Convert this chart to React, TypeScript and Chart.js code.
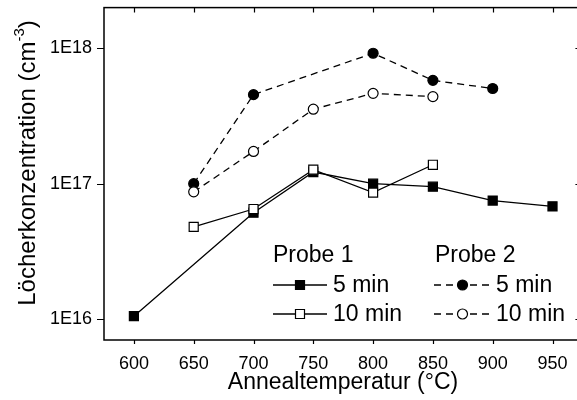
import React, { useEffect, useRef } from 'react';
import { Chart, registerables } from 'chart.js';
Chart.register(...registerables);

const FONT = '"Liberation Sans", Arial, Helvetica, sans-serif';

const probe1Temps5 = [600, 700, 750, 800, 850, 900, 950];
const probe1Conc5 = [1.05e16, 6.1e16, 1.22e17, 1.0e17, 0.95e17, 7.5e16, 6.8e16];
const probe1Temps10 = [650, 700, 750, 800, 850];
const probe1Conc10 = [4.8e16, 6.5e16, 1.27e17, 0.86e17, 1.38e17];
const probe2Temps5 = [650, 700, 800, 850, 900];
const probe2Conc5 = [1.0e17, 4.55e17, 0.92e18, 5.8e17, 5.05e17];
const probe2Temps10 = [650, 700, 750, 800, 850];
const probe2Conc10 = [0.87e17, 1.73e17, 3.55e17, 4.65e17, 4.4e17];

const xMin = 575;
const xMax = 975;
const yMin = 7e15;
const yMax = 2e18;
const xLabelStep = 50;
const yLabelPrefix = '1E';

const xTitle = 'Annealtemperatur (°C)';
const yTitleMain = 'Löcherkonzentration (cm';
const yTitleSup = '-3';
const yTitleEnd = ')';
const legendGroups = ['Probe 1', 'Probe 2'];
const legendRows = ['5 min', '10 min'];

const pts = (xs: number[], ys: number[]) => xs.map((x, i) => ({ x, y: ys[i] }));

export default function App() {
  const ref = useRef<HTMLCanvasElement | null>(null);
  useEffect(() => {
    const canvas = ref.current!;
    const drawMarker = (ctx: CanvasRenderingContext2D, kind: string, filled: boolean, x: number, y: number) => {
      ctx.save();
      ctx.fillStyle = filled ? '#000' : '#fff';
      ctx.strokeStyle = '#000';
      ctx.lineWidth = 1.2;
      ctx.setLineDash([]);
      ctx.beginPath();
      if (kind === 'rect') ctx.rect(x - 4.5, y - 4.5, 9, 9);
      else ctx.arc(x, y, 5, 0, Math.PI * 2);
      ctx.fill();
      ctx.stroke();
      ctx.restore();
    };
    const deco = {
      id: 'deco',
      afterDraw(chart: any) {
        const ctx: CanvasRenderingContext2D = chart.ctx;
        const a = chart.chartArea;
        const xs = chart.scales.x;
        const ys = chart.scales.y;
        ctx.save();
        ctx.strokeStyle = '#000';
        ctx.lineWidth = 1.5;
        ctx.strokeRect(a.left, a.top, a.right - a.left, a.bottom - a.top);
        ctx.lineWidth = 1.2;
        ctx.beginPath();
        for (const t of xs.ticks) {
          const px = Math.round(xs.getPixelForValue(t.value)) + 0.5;
          ctx.moveTo(px, a.bottom);
          ctx.lineTo(px, a.bottom + 4);
          ctx.moveTo(px, a.top);
          ctx.lineTo(px, a.top + 5);
        }
        for (const t of ys.ticks) {
          const e = Math.log10(t.value);
          const major = Math.abs(e - Math.round(e)) < 1e-6;
          const py = Math.round(ys.getPixelForValue(t.value)) + 0.5;
          const l = major ? 7 : 3;
          ctx.moveTo(a.left, py);
          ctx.lineTo(a.left - l, py);
          ctx.moveTo(a.right, py);
          ctx.lineTo(a.right - l, py);
        }
        ctx.stroke();

        ctx.fillStyle = '#000';
        ctx.font = `23px ${FONT}`;
        ctx.textAlign = 'center';
        ctx.textBaseline = 'alphabetic';
        ctx.fillText(xTitle, 343, 389);

        // y title rotated with superscript
        ctx.save();
        ctx.translate(35, 163);
        ctx.rotate(-Math.PI / 2);
        ctx.font = `24px ${FONT}`;
        const w1 = ctx.measureText(yTitleMain).width;
        ctx.font = `15px ${FONT}`;
        const w2 = ctx.measureText(yTitleSup).width;
        ctx.font = `24px ${FONT}`;
        const w3 = ctx.measureText(yTitleEnd).width;
        const tot = w1 + w2 + w3;
        let cx = -tot / 2;
        ctx.textAlign = 'left';
        ctx.fillText(yTitleMain, cx, 0);
        cx += w1;
        ctx.font = `15px ${FONT}`;
        ctx.fillText(yTitleSup, cx, -11);
        cx += w2;
        ctx.font = `24px ${FONT}`;
        ctx.fillText(yTitleEnd, cx, 0);
        ctx.restore();

        // legend
        ctx.font = `23px ${FONT}`;
        ctx.textAlign = 'left';
        ctx.textBaseline = 'middle';
        const gx = [273, 435];
        const rowY = [285, 314];
        legendGroups.forEach((g, gi) => {
          ctx.fillText(g, gx[gi], 256);
          legendRows.forEach((r, ri) => {
            const y = rowY[ri];
            const x0 = gi === 0 ? 273 : 434;
            const x1 = gi === 0 ? 327 : 491;
            ctx.save();
            ctx.lineWidth = 1.3;
            ctx.setLineDash(gi === 0 ? [] : [7, 5]);
            ctx.beginPath();
            ctx.moveTo(x0, y);
            ctx.lineTo(x1, y);
            ctx.stroke();
            ctx.restore();
            drawMarker(ctx, gi === 0 ? 'rect' : 'circle', ri === 0, (x0 + x1) / 2, y);
            ctx.fillText(r, gi === 0 ? 333 : 496, y + 1);
          });
        });
        ctx.restore();
      },
    };
    const base = (data: any, style: string, filled: boolean, dashed: boolean, order: number) => ({
      data,
      order,
      borderColor: '#000',
      borderWidth: 1.3,
      borderDash: dashed ? [7, 5] : [],
      pointStyle: style,
      pointRadius: style === 'rect' ? 6.4 : 5,
      pointBackgroundColor: filled ? '#000' : '#fff',
      pointBorderColor: '#000',
      pointBorderWidth: 1.2,
      fill: false,
      tension: 0,
    });
    const chart = new Chart(canvas, {
      type: 'line',
      data: {
        datasets: [
          base(pts(probe1Temps5, probe1Conc5), 'rect', true, false, 2),
          base(pts(probe1Temps10, probe1Conc10), 'rect', false, false, 1),
          base(pts(probe2Temps5, probe2Conc5), 'circle', true, true, 4),
          base(pts(probe2Temps10, probe2Conc10), 'circle', false, true, 3),
        ] as any,
      },
      options: {
        animation: false,
        responsive: false,
        events: [],
        layout: { padding: { left: 0, right: 7, top: 7, bottom: 0 } },
        plugins: { legend: { display: false }, tooltip: { enabled: false } },
        scales: {
          x: {
            type: 'linear',
            min: xMin,
            max: xMax,
            grid: { display: false, drawTicks: false },
            border: { display: false },
            afterFit: (s: any) => {
              s.height = 60;
              s.paddingLeft = 0;
              s.paddingRight = 0;
            },
            ticks: {
              stepSize: 25,
              autoSkip: false,
              maxRotation: 0,
              padding: 13,
              color: '#000',
              font: { family: FONT, size: 18 },
              callback: (v: any) => (Number(v) % xLabelStep === 0 ? String(v) : null),
            },
          },
          y: {
            type: 'logarithmic',
            min: yMin,
            max: yMax,
            grid: { display: false, drawTicks: false },
            border: { display: false },
            afterFit: (s: any) => {
              s.width = 104;
              s.paddingTop = 0;
              s.paddingBottom = 0;
            },
            ticks: {
              autoSkip: false,
              padding: 12,
              color: '#000',
              font: { family: FONT, size: 18 },
              callback: (v: any) => {
                const e = Math.log10(Number(v));
                return Math.abs(e - Math.round(e)) < 1e-6 ? yLabelPrefix + Math.round(e) : null;
              },
            },
          },
        },
      } as any,
      plugins: [deco],
    });
    return () => chart.destroy();
  }, []);
  return (
    <div style={{ position: 'fixed', left: 0, top: 0, width: 577, height: 400, overflow: 'hidden', background: '#fff' }}>
      <canvas ref={ref} width={590} height={400} style={{ display: 'block', width: 590, height: 400 }} />
    </div>
  );
}
